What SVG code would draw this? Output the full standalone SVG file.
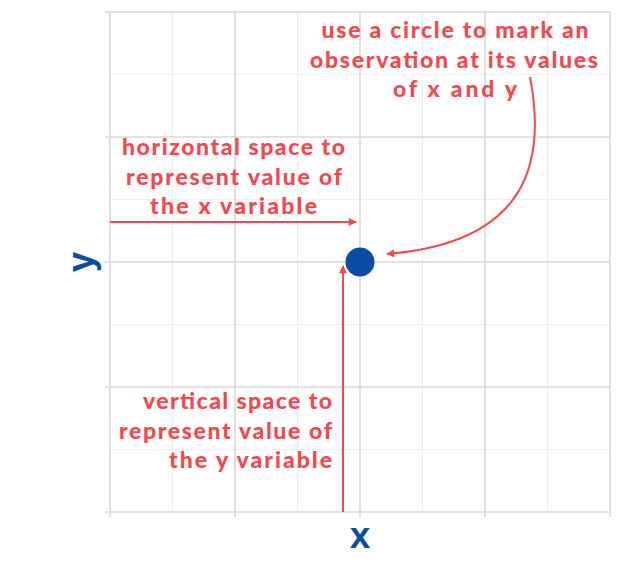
<svg xmlns="http://www.w3.org/2000/svg" width="620" height="586" viewBox="0 0 620 586">
<style>
.minor{stroke:#eeeeee;stroke-width:1.2;fill:none}
.major{stroke:#d9d9d9;stroke-width:1.6;fill:none}
.lbl{font-family:Lato,"Liberation Sans",sans-serif;font-weight:900;font-size:23px;fill:#f4474f}
.axis{font-family:"Liberation Sans",Arial,sans-serif;font-weight:bold;font-size:37px;fill:#0b4da3}
.conn{stroke:#f4474f;stroke-width:2;fill:none}
</style>
<defs>
<marker id="ah" viewBox="0 0 10 10" refX="9" refY="5" markerWidth="11" markerHeight="8" markerUnits="userSpaceOnUse" orient="auto">
<path d="M0,0 L10,5 L0,10 z" fill="#f4474f"/>
</marker>
</defs>
<rect width="620" height="586" fill="#ffffff"/>
<g id="grid">
<path class="minor" d="M172.5,12V512M297.5,12V512M422.5,12V512M547.5,12V512M110,74.5H610M110,199.5H610M110,324.5H610M110,449.5H610"/>
<path class="major" d="M110,12V517M235,12V517M360,12V517M485,12V517M610,12V517M105,12H610M105,137H610M105,262H610M105,387H610M105,512H610"/>
</g>
<g id="axis-labels">
<text class="axis" x="0" y="0" text-anchor="middle" transform="translate(360,548)">x</text>
<text class="axis" x="0" y="0" text-anchor="middle" transform="translate(93,262) rotate(-90)">y</text>
</g>
<g id="observation">
<circle cx="360" cy="262" r="14.5" fill="#0b4da3"/>
</g>
<g id="connectors">
<path class="conn" d="M110,222H356" marker-end="url(#ah)"/>
<path class="conn" d="M343,512V266" marker-end="url(#ah)"/>
<path class="conn" d="M530,77C547,165 525,243 387,254" marker-end="url(#ah)"/>
</g>
<g id="note-circle">
<text class="lbl" text-anchor="middle"><tspan x="455" y="38" textLength="267" lengthAdjust="spacing">use a circle to mark an</tspan><tspan x="454" y="68" textLength="288" lengthAdjust="spacing">observation at its values</tspan><tspan x="455" y="97" textLength="124" lengthAdjust="spacing">of x and y</tspan></text>
</g>
<g id="note-horizontal">
<text class="lbl" text-anchor="middle"><tspan x="233.5" y="155" textLength="223" lengthAdjust="spacing">horizontal space to</tspan><tspan x="234" y="185" textLength="216" lengthAdjust="spacing">represent value of</tspan><tspan x="233.5" y="214" textLength="167" lengthAdjust="spacing">the x variable</tspan></text>
</g>
<g id="note-vertical">
<text class="lbl" text-anchor="end"><tspan x="332" y="409" textLength="189" lengthAdjust="spacing">vertical space to</tspan><tspan x="332" y="439" textLength="213" lengthAdjust="spacing">represent value of</tspan><tspan x="332" y="468" textLength="163" lengthAdjust="spacing">the y variable</tspan></text>
</g>
</svg>
